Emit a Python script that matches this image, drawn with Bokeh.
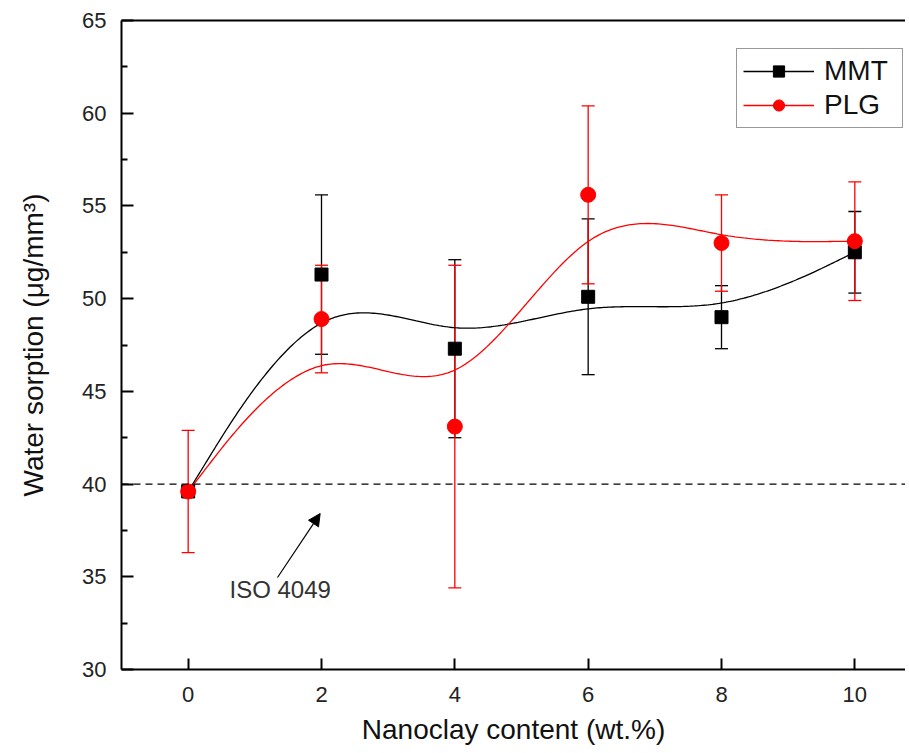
import numpy as np
from bokeh.plotting import figure
from bokeh.models import (ColumnDataSource, Whisker, TeeHead, Span, Arrow, NormalHead,
                          Label, Legend, LegendItem, LinearAxis, FixedTicker, Range1d)
from bokeh.embed import file_html
from bokeh.resources import INLINE

# ---------------- data ----------------
nanoclay = [0, 2, 4, 6, 8, 10]
mmt_mean = [39.6, 51.3, 47.3, 50.1, 49.0, 52.5]
mmt_err = [0.0, 4.3, 4.8, 4.2, 1.7, 2.2]
plg_mean = [39.6, 48.9, 43.1, 55.6, 53.0, 53.1]
plg_err = [3.3, 2.9, 8.7, 4.8, 2.6, 3.2]
iso_limit = 40
iso_text = "ISO 4049"
iso_text_pos = (0.62, 34.3)
iso_arrow_start = (1.34, 34.96)
iso_arrow_end = (1.98, 38.41)
x_ticks = [0, 2, 4, 6, 8, 10]
y_ticks = [30, 35, 40, 45, 50, 55, 60, 65]
y_minor = [(a + b) / 2 for a, b in zip(y_ticks[:-1], y_ticks[1:])]

FONT = "Liberation Sans"


def bspline(px, py, n=60):
    """Uniform cubic B-spline with tripled end control points (Origin-style)."""
    P = np.column_stack([px, py]).astype(float)
    Q = np.vstack([P[:1], P[:1], P, P[-1:], P[-1:]])
    t = np.linspace(0, 1, n)
    b0 = (1 - t) ** 3 / 6
    b1 = (3 * t ** 3 - 6 * t ** 2 + 4) / 6
    b2 = (-3 * t ** 3 + 3 * t ** 2 + 3 * t + 1) / 6
    b3 = t ** 3 / 6
    pts = []
    for i in range(len(Q) - 3):
        seg = (np.outer(b0, Q[i]) + np.outer(b1, Q[i + 1]) +
               np.outer(b2, Q[i + 2]) + np.outer(b3, Q[i + 3]))
        pts.append(seg if i == 0 else seg[1:])
    C = np.vstack(pts)
    return C[:, 0], C[:, 1]


mmt_src = ColumnDataSource(dict(x=nanoclay, y=mmt_mean,
                                lo=[m - e for m, e in zip(mmt_mean, mmt_err)],
                                hi=[m + e for m, e in zip(mmt_mean, mmt_err)]))
plg_src = ColumnDataSource(dict(x=nanoclay, y=plg_mean,
                                lo=[m - e for m, e in zip(plg_mean, plg_err)],
                                hi=[m + e for m, e in zip(plg_mean, plg_err)]))
mx, my = bspline(nanoclay, mmt_mean)
px_, py_ = bspline(nanoclay, plg_mean)

p = figure(width=905, height=752, x_range=Range1d(-1, 10.76), y_range=Range1d(30, 65),
           output_backend="svg", toolbar_location=None,
           min_border_left=121, min_border_top=20, min_border_right=0, min_border_bottom=83)
p.outline_line_color = None
p.grid.visible = False
p.background_fill_color = "white"

# axes styling
for ax in (p.xaxis[0], p.yaxis[0]):
    ax.axis_line_width = 2
    ax.axis_line_color = "black"
    ax.major_tick_line_width = 2
    ax.major_tick_line_color = "black"
    ax.minor_tick_line_width = 2
    ax.minor_tick_line_color = "black"
    ax.major_tick_out = 0
    ax.minor_tick_out = 0
    ax.major_label_text_font = FONT
    ax.major_label_text_font_size = "22px"
    ax.major_label_text_color = "#222222"
    ax.axis_label_text_font = FONT
    ax.axis_label_text_font_size = "28px"
    ax.axis_label_text_font_style = "normal"
    ax.axis_label_text_color = "#111111"

p.xaxis[0].ticker = FixedTicker(ticks=x_ticks)
p.xaxis[0].major_tick_in = 11
p.xaxis[0].minor_tick_line_color = None
p.xaxis[0].major_label_standoff = 17
p.xaxis[0].axis_label = "Nanoclay content (wt.%)"
p.xaxis[0].axis_label_standoff = 9

p.yaxis[0].ticker = FixedTicker(ticks=y_ticks, minor_ticks=y_minor)
p.yaxis[0].major_tick_in = 12
p.yaxis[0].minor_tick_in = 6
p.yaxis[0].major_label_standoff = 15
p.yaxis[0].axis_label = "Water sorption (\u03bcg/mm\u00b3)"
p.yaxis[0].axis_label_standoff = 30

top_axis = LinearAxis(ticker=FixedTicker(ticks=[]), axis_line_width=2, axis_line_color="black",
                      major_tick_line_color=None, minor_tick_line_color=None,
                      major_label_standoff=0, major_tick_in=0, major_tick_out=0)
p.add_layout(top_axis, "above")

# reference line ISO 4049
p.add_layout(Span(location=iso_limit, dimension="width", line_color="black",
                  line_width=1.3, line_dash="7 5"))

# error bars
p.add_layout(Whisker(base="x", upper="hi", lower="lo", source=mmt_src,
                     line_color="black", line_width=1.3,
                     upper_head=TeeHead(size=13, line_color="black", line_width=1.3),
                     lower_head=TeeHead(size=13, line_color="black", line_width=1.3)))
p.add_layout(Whisker(base="x", upper="hi", lower="lo", source=plg_src,
                     line_color="red", line_width=1.3,
                     upper_head=TeeHead(size=13, line_color="red", line_width=1.3),
                     lower_head=TeeHead(size=13, line_color="red", line_width=1.3)))

# smooth curves
l1 = p.line(mx, my, line_color="black", line_width=1.3)
l2 = p.line(px_, py_, line_color="red", line_width=1.3)

# markers
s1 = p.scatter("x", "y", source=mmt_src, marker="square", size=13,
               fill_color="black", line_color="black")
s2 = p.scatter("x", "y", source=plg_src, marker="circle", size=15,
               fill_color="red", line_color="red")

# annotation
p.add_layout(Arrow(end=NormalHead(size=12, fill_color="black", line_color="black"),
                   x_start=iso_arrow_start[0], y_start=iso_arrow_start[1],
                   x_end=iso_arrow_end[0], y_end=iso_arrow_end[1],
                   line_color="black", line_width=1.2))
p.add_layout(Label(x=iso_text_pos[0], y=iso_text_pos[1], text=iso_text,
                   text_font=FONT, text_font_size="24px", text_color="#333333",
                   text_baseline="middle", text_align="left"))

legend = Legend(items=[LegendItem(label="MMT", renderers=[l1, s1]),
                       LegendItem(label="PLG", renderers=[l2, s2])],
                location=(615, 541))
legend.label_text_font = FONT
legend.label_text_font_size = "28px"
legend.label_text_color = "#111111"
legend.glyph_width = 71
legend.glyph_height = 28
legend.label_height = 28
legend.label_width = 72
legend.label_standoff = 10
legend.padding = 6
legend.spacing = 2
legend.margin = 0
legend.border_line_color = "#333333"
legend.border_line_width = 1
legend.background_fill_alpha = 1
p.add_layout(legend)

open("out.html", "w").write(file_html(p, INLINE))
